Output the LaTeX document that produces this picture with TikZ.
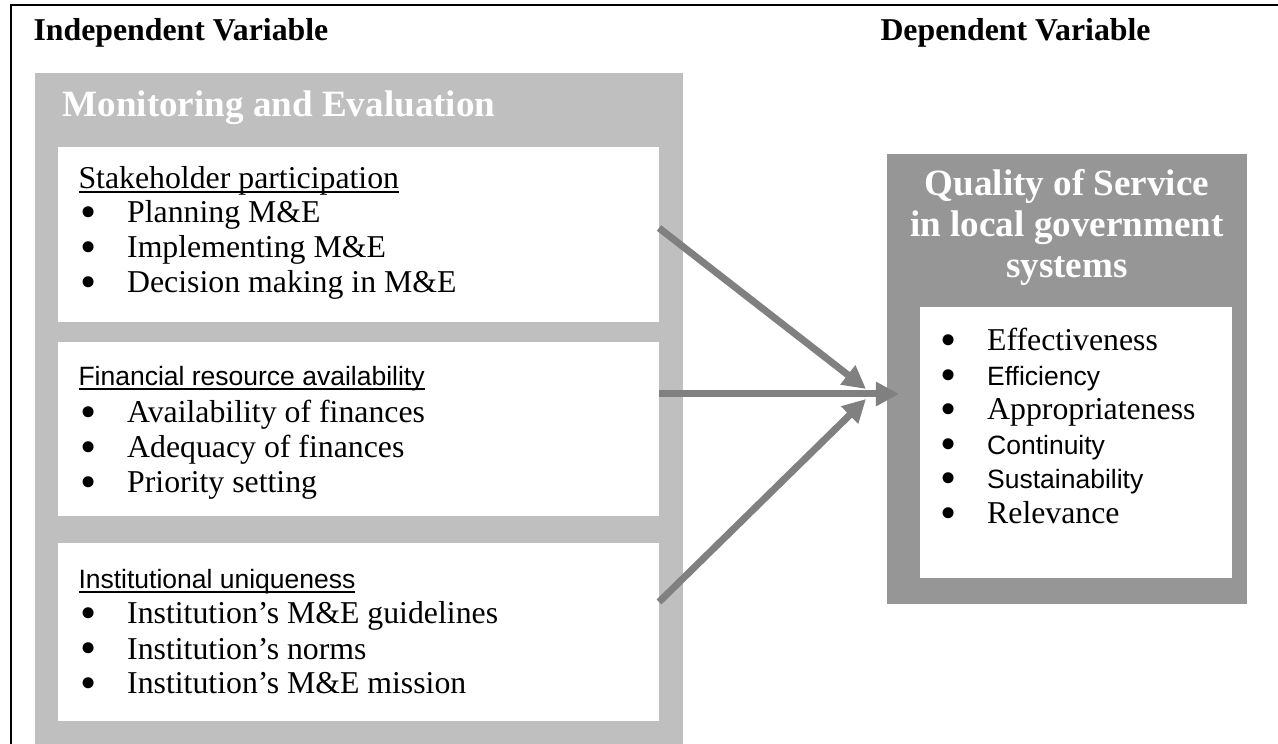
\documentclass[tikz,border=0pt]{standalone}
\usepackage{fontspec}
\setmainfont{Liberation Serif}
\newfontfamily\arialfont{Liberation Sans}
\usetikzlibrary{arrows.meta,fit}

\definecolor{melight}{HTML}{BFBFBF}
\definecolor{qsdark}{HTML}{969696}
\definecolor{flowgray}{HTML}{808080}

\tikzset{
  panel/.style={inner sep=0pt, outer sep=0pt},
  heading/.style={anchor=base west, inner sep=0pt, font=\bfseries\fontsize{12}{14}\selectfont},
  title/.style={inner sep=0pt, text=white, font=\bfseries\fontsize{14}{16}\selectfont},
  item/.style={anchor=base west, inner sep=0pt, font=\fontsize{12}{14}\selectfont},
  flow/.style={draw=flowgray, line width=2.64pt, -{Triangle[length=8.7pt,width=8.7pt]}}
}

% bullet with a fixed tab before the text
\newcommand{\bul}[1]{\makebox[17.6pt][l]{\smash{\raisebox{-0.15em}{\scalebox{1.45}{\textbullet}}}}#1}
\newcommand{\sans}{\arialfont\fontsize{10}{12}\selectfont}
% underline sitting close to the baseline
\newcommand{\wordline}[1]{\setbox0\hbox{#1}\rlap{\rule[-1.4pt]{\wd0}{0.7pt}}\box0}

\begin{document}
\begin{tikzpicture}[x=0.3774pt, y=-0.3774pt]

    \useasboundingbox (0,0) rectangle (1278,744);

    % outer frame (open to the right and below)
    \draw[line width=0.75pt] (1278,5) -- (11,5) -- (11,744);

    % column headings
    \node[heading] (ivar) at (33,41) {Independent Variable};
    \node[heading] (dvar) at (880,41) {Dependent Variable};

    % Monitoring and Evaluation panel with its three boxes
    \node[panel, fill=melight, fit={(35,73) (683,744)}] (me) {};
    \node[title, anchor=base west] (metitle) at (62,117) {Monitoring and Evaluation};

    \node[panel, fill=white, fit={(58,147) (659,322)}] (sp) {};
    \node[panel, fill=white, fit={(58,342) (659,516)}] (fr) {};
    \node[panel, fill=white, fit={(58,543) (659,721)}] (iu) {};

    % stakeholder participation
    \node[item] (sp0) at (78,189) {\wordline{Stakeholder participation}};
    \node[item] (sp1) at (80,223) {\bul{Planning M\&E}};
    \node[item] (sp2) at (80,258) {\bul{Implementing M\&E}};
    \node[item] (sp3) at (80,293) {\bul{Decision making in M\&E}};

    % financial resources
    \node[item] (fr0) at (78,386) {\sans\wordline{Financial resource availability}};
    \node[item] (fr1) at (80,423) {\bul{Availability of finances}};
    \node[item] (fr2) at (80,458) {\bul{Adequacy of finances}};
    \node[item] (fr3) at (80,493) {\bul{Priority setting}};

    % institutional uniqueness
    \node[item] (iu0) at (78,589) {\sans\wordline{Institutional uniqueness}};
    \node[item] (iu1) at (80,624) {\bul{Institution’s M\&E guidelines}};
    \node[item] (iu2) at (80,659) {\bul{Institution’s norms}};
    \node[item] (iu3) at (80,694) {\bul{Institution’s M\&E mission}};

    % Quality of Service panel
    \node[panel, fill=qsdark, fit={(887,154) (1247,604)}] (qs) {};
    \node[title, anchor=base] (qst1) at (1067,196) {Quality of Service};
    \node[title, anchor=base] (qst2) at (1067,237) {in local government};
    \node[title, anchor=base] (qst3) at (1067,278) {systems};
    \node[panel, fill=white, fit={(920,307) (1232,578)}] (qi) {};

    \node[item] (qi1) at (940,351) {\bul{Effectiveness}};
    \node[item] (qi2) at (940,386) {\bul{\sans Efficiency}};
    \node[item] (qi3) at (940,420) {\bul{Appropriateness}};
    \node[item] (qi4) at (940,455) {\bul{\sans Continuity}};
    \node[item] (qi5) at (940,489) {\bul{\sans Sustainability}};
    \node[item] (qi6) at (940,524) {\bul{Relevance}};

    % arrow tips meeting in front of the panel
    \coordinate (t1) at (866,389);
    \coordinate (t2) at (899,394);
    \coordinate (t3) at (866,399);

    \draw[flow] (sp.east |- 0,228) -- (t1);
    \draw[flow] (fr.east |- 0,394) -- (t2);
    \draw[flow] (iu.east |- 0,602) -- (t3);

\end{tikzpicture}
\end{document}
